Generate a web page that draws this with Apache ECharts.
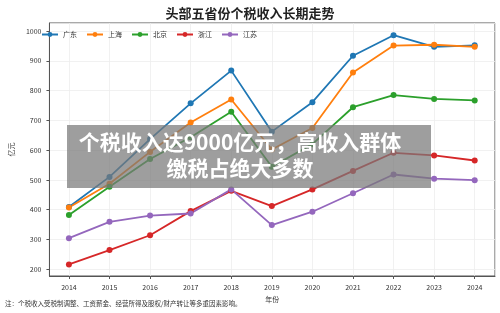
<!DOCTYPE html>
<html>
<head>
<meta charset="utf-8">
<script src="https://cdn.jsdelivr.net/npm/echarts@6/dist/echarts.min.js"></script>
<style>
  html, body { margin: 0; padding: 0; background: #fff; }
  #chart { width: 500px; height: 313px; }
</style>
</head>
<body>
<div id="chart"></div>
<script>
  // 年份与各省个税收入（亿元）
  const years = [2014, 2015, 2016, 2017, 2018, 2019, 2020, 2021, 2022, 2023, 2024];
  const guangdong = [409, 510, 637, 757, 867, 662, 761, 917, 986, 947, 952];
  const shanghai = [407, 487, 594, 693, 770, 602, 674, 861, 951, 954, 947];
  const beijing = [382, 477, 570, 643, 729, 544, 620, 744, 785, 772, 767];
  const zhejiang = [216, 264, 314, 395, 463, 412, 468, 530, 591, 582, 565];
  const jiangsu = [304, 359, 380, 387, 468, 348, 393, 455, 518, 504, 499];

  const names = ['广东', '上海', '北京', '浙江', '江苏'];
  const colors = ['#1f77b4', '#ff7f0e', '#2ca02c', '#d62728', '#9467bd'];
  const seriesData = [guangdong, shanghai, beijing, zhejiang, jiangsu];

  const font = '"Noto Sans CJK SC", "DejaVu Sans", sans-serif';

  const chart = echarts.init(document.getElementById('chart'));
  chart.setOption({
    animation: false,
    textStyle: { fontFamily: font },
    title: {
      text: '头部五省份个税收入长期走势',
      left: 'center',
      top: 2,
      textStyle: { fontSize: 13, fontWeight: 'bold', color: '#222', fontFamily: font }
    },
    legend: {
      data: names,
      left: 36,
      top: 26,
      itemWidth: 16,
      itemHeight: 6,
      itemGap: 9,
      textStyle: { fontSize: 7, color: '#333' }
    },
    grid: {
      left: 36,
      right: 5,
      top: 23,
      bottom: 37,
      show: true,
      borderColor: '#555',
      borderWidth: 1
    },
    xAxis: {
      type: 'value',
      min: 2013.52,
      max: 2024.5,
      minInterval: 1,
      maxInterval: 1,
      name: '年份',
      nameLocation: 'middle',
      nameGap: 16,
      nameTextStyle: { fontSize: 7, color: '#333' },
      axisLine: { show: true, lineStyle: { color: '#555' } },
      axisTick: { show: true, length: 3, lineStyle: { color: '#555' } },
      axisLabel: {
        fontSize: 7,
        color: '#333',
        showMinLabel: false,
        showMaxLabel: false,
        formatter: v => String(v)
      },
      splitLine: { show: true, lineStyle: { color: '#eee', width: 0.8 } }
    },
    yAxis: {
      type: 'value',
      min: 177,
      max: 1027,
      minInterval: 100,
      maxInterval: 100,
      name: '亿元',
      nameLocation: 'middle',
      nameGap: 27,
      nameTextStyle: { fontSize: 7, color: '#333' },
      axisLine: { show: true, lineStyle: { color: '#555' } },
      axisTick: { show: true, length: 3, lineStyle: { color: '#555' } },
      axisLabel: {
        fontSize: 7,
        color: '#333',
        showMinLabel: false,
        showMaxLabel: false,
        formatter: v => String(v)
      },
      splitLine: { show: true, lineStyle: { color: '#eee', width: 0.8 } }
    },
    series: names.map((name, i) => ({
      name: name,
      type: 'line',
      data: years.map((y, j) => [y, seriesData[i][j]]),
      symbol: 'circle',
      symbolSize: 6,
      lineStyle: { width: 1.8, color: colors[i] },
      itemStyle: { color: colors[i] },
      z: 2
    })),
    graphic: [
      {
        type: 'rect',
        shape: { x: 67, y: 125, width: 364, height: 63 },
        style: { fill: 'rgba(120,120,120,0.72)' },
        z: 100
      },
      {
        type: 'text',
        x: 240,
        y: 155,
        style: {
          text: '个税收入达9000亿元，高收入群体\n缴税占绝大多数',
          fill: '#fff',
          font: 'bold 21px ' + font,
          align: 'center',
          verticalAlign: 'middle',
          lineHeight: 26
        },
        z: 101
      },
      {
        type: 'text',
        left: 5,
        top: 300,
        style: {
          text: '注：个税收入受税制调整、工资薪金、经营所得及股权/财产转让等多重因素影响。',
          fill: '#333',
          font: '6.5px ' + font
        }
      }
    ]
  });
</script>
</body>
</html>
